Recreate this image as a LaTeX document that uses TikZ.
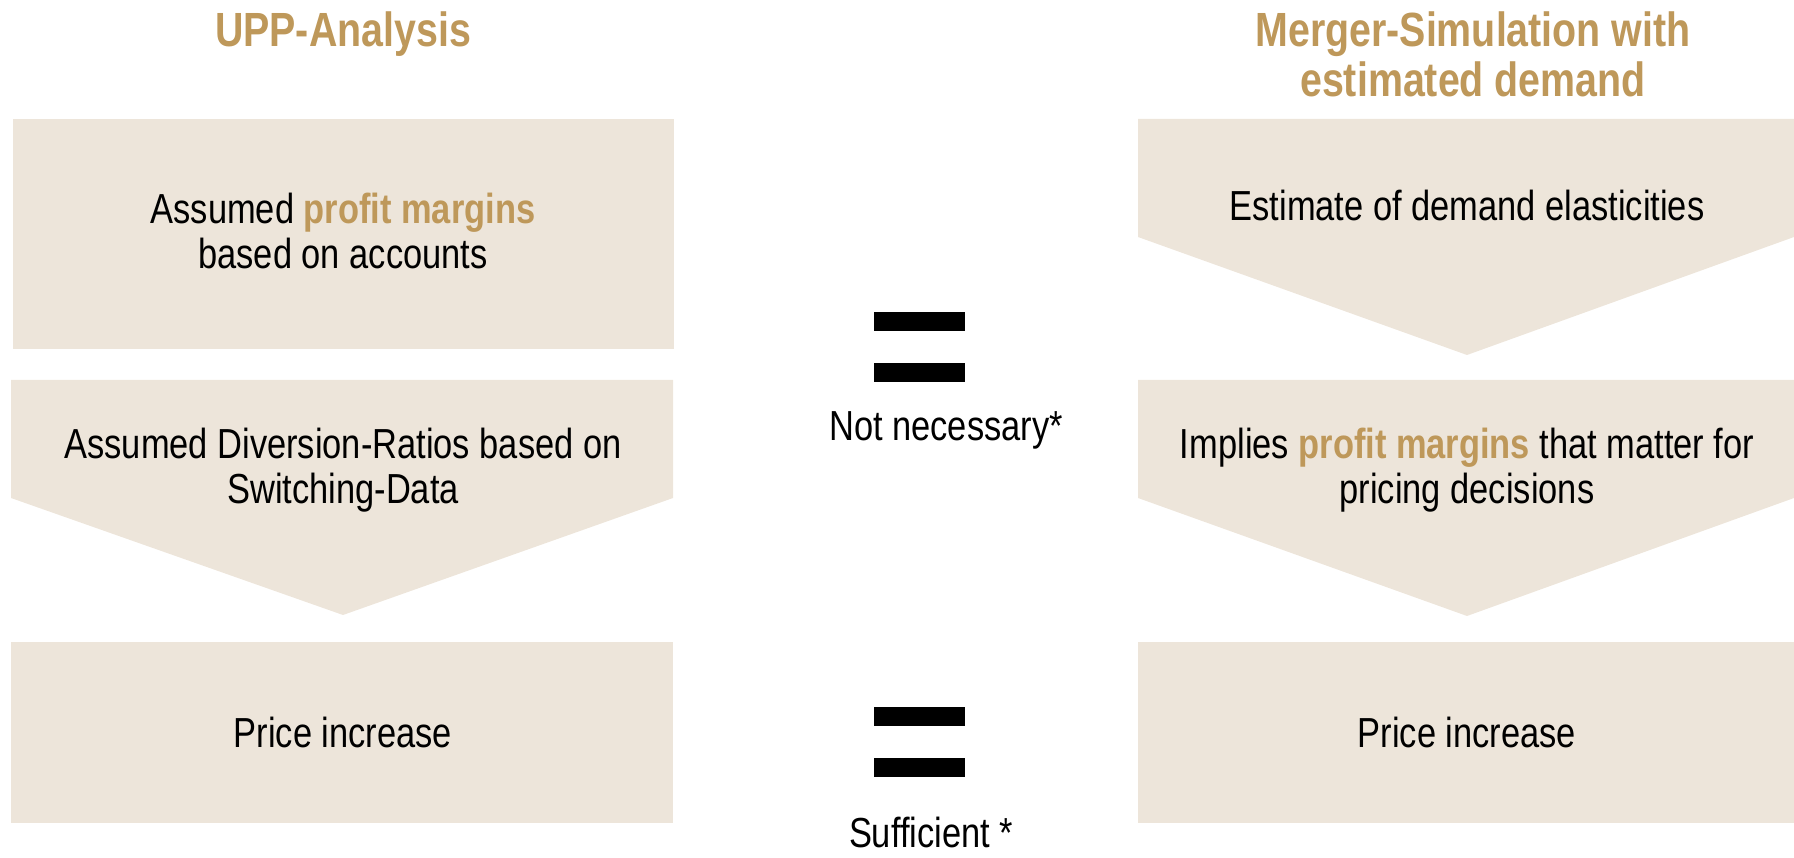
\documentclass[tikz,border=0pt]{standalone}
\usepackage{fontspec}
\setmainfont{Liberation Sans}[FakeStretch=0.82]
\definecolor{gold}{RGB}{190,152,90}
\definecolor{sand}{RGB}{237,229,218}
\newcommand{\goldtext}[1]{\textcolor{gold}{\bfseries #1}}

\begin{document}
\begin{tikzpicture}[x=1pt, y=-1pt,
    panel/.style={fill=sand, draw=none},
    bar/.style={fill=black, draw=none},
    heading/.style={text=gold, font=\fontsize{48}{50}\selectfont\bfseries, align=center, anchor=base, inner sep=0pt},
    body/.style={font=\fontsize{42}{45}\selectfont, align=center, anchor=base, inner sep=0pt}]

    \useasboundingbox (0,0) rectangle (1794,858);

    % Sloupce
    \def\Lmid{343}
    \def\Rmid{1467}

    % 1. Levy sloupec (UPP)
    \fill[panel] (13,119) rectangle (674,349);
    \fill[panel] (11,380) -- (673,380) -- (673,498) -- (\Lmid,615) -- (11,498) -- cycle;
    \fill[panel] (11,642) rectangle (673,823);

    % 2. Pravy sloupec (simulace)
    \fill[panel] (1138,119) -- (1794,119) -- (1794,237) -- (\Rmid,355) -- (1138,237) -- cycle;
    \fill[panel] (1138,380) -- (1794,380) -- (1794,498) -- (\Rmid,616) -- (1138,498) -- cycle;
    \fill[panel] (1138,642) rectangle (1794,823);

    % 3. Rovnitka uprostred
    \foreach \y in {312, 363, 707, 758} {
        \fill[bar] (874,\y) rectangle (965,\y+19);
    }

    % 4. Nadpisy (base = posledni radek)
    \node[heading] (upp) at (\Lmid,47) {UPP-Analysis};
    \node[heading] (merger) at (1473,97) {Merger-Simulation with\\estimated demand};

    % 5. Texty v levem sloupci
    \node[body] (margins) at (\Lmid,269) {Assumed \goldtext{profit margins}\\based on accounts};
    \node[body] (diversion) at (\Lmid,503) {Assumed Diversion-Ratios based on\\Switching-Data};
    \node[body] (priceL) at (\Lmid,747) {Price increase};

    % 6. Texty v pravem sloupci
    \node[body] (elast) at (\Rmid,221) {Estimate of demand elasticities};
    \node[body] (implied) at (\Rmid,503) {Implies \goldtext{profit margins} that matter for\\pricing decisions};
    \node[body] (priceR) at (\Rmid,747) {Price increase};

    % 7. Popisky rovnitek
    \node[body] (notnec) at (946,440) {Not necessary*};
    \node[body] (suff) at (931,847) {Sufficient *};

\end{tikzpicture}
\end{document}
